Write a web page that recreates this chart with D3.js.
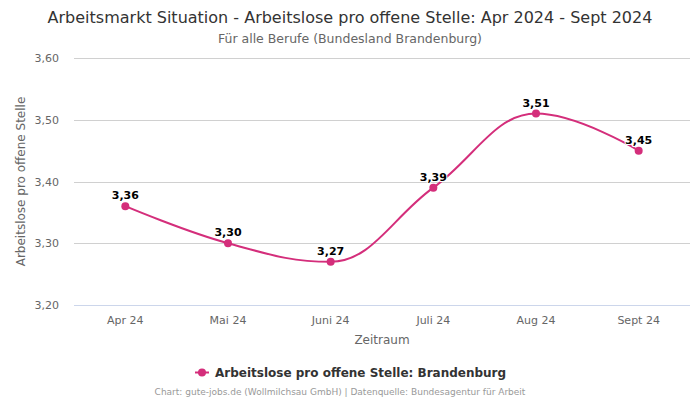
<!DOCTYPE html>
<html><head><meta charset="utf-8">
<script src="https://cdn.jsdelivr.net/npm/d3@7"></script>
<style>
body{margin:0;background:#fff;}
text{font-family:"DejaVu Sans",sans-serif;}
</style></head>
<body><svg id="c" width="700" height="400"></svg>
<script>
const categories = ["Apr 24","Mai 24","Juni 24","Juli 24","Aug 24","Sept 24"];
const values = [3.36, 3.30, 3.27, 3.39, 3.51, 3.45];
const yTicks = [3.20, 3.30, 3.40, 3.50, 3.60];
const seriesName = "Arbeitslose pro offene Stelle: Brandenburg";
const color = "#d42e7b";

const svg = d3.select("#c");
const fmt = v => v.toFixed(2).replace(".", ",");
const x = d3.scaleBand().domain(categories).range([74, 690]);
const y = d3.scaleLinear().domain([3.20, 3.60]).range([305, 58]);

svg.append("text").attr("x",350).attr("y",23).attr("text-anchor","middle")
  .attr("font-size",16).attr("fill","#333").text("Arbeitsmarkt Situation - Arbeitslose pro offene Stelle: Apr 2024 - Sept 2024");
svg.append("text").attr("x",350).attr("y",43).attr("text-anchor","middle")
  .attr("font-size",12.5).attr("fill","#666").text("Für alle Berufe (Bundesland Brandenburg)");

// grid
svg.append("g").selectAll("line").data(yTicks).join("line")
  .attr("x1",74).attr("x2",690).attr("y1",d=>Math.round(y(d))+0.5).attr("y2",d=>Math.round(y(d))+0.5)
  .attr("stroke",d=>d===3.20?"#ccd6eb":"#d0d0d0").attr("stroke-width",1);
svg.append("g").selectAll("text").data(yTicks).join("text")
  .attr("x",59).attr("y",d=>y(d)+4).attr("text-anchor","end").attr("font-size",11).attr("fill","#666")
  .text(fmt);
svg.append("text").attr("transform","translate(25,"+((58+305)/2)+") rotate(-90)").attr("text-anchor","middle")
  .attr("font-size",12).attr("fill","#666").text("Arbeitslose pro offene Stelle");

svg.append("g").selectAll("text").data(categories).join("text")
  .attr("x",d=>x(d)+x.bandwidth()/2).attr("y",324).attr("text-anchor","middle")
  .attr("font-size",11).attr("fill","#666").text(d=>d);
svg.append("text").attr("x",382).attr("y",344).attr("text-anchor","middle")
  .attr("font-size",12).attr("fill","#666").text("Zeitraum");

// Highcharts-style spline
const pts = values.map((v,i)=>({x:x(categories[i])+x.bandwidth()/2, y:y(v)}));
const sm = 1.5, den = sm+1;
pts.forEach((p,i)=>{
  const l = pts[i-1], n = pts[i+1];
  if (l && n) {
    let lcx=(sm*p.x+l.x)/den, lcy=(sm*p.y+l.y)/den, rcx=(sm*p.x+n.x)/den, rcy=(sm*p.y+n.y)/den;
    const corr=((rcy-lcy)*(rcx-p.x))/(rcx-lcx)+p.y-rcy;
    lcy+=corr; rcy+=corr;
    if (lcy>l.y && lcy>p.y){lcy=Math.max(l.y,p.y); rcy=2*p.y-lcy;}
    else if (lcy<l.y && lcy<p.y){lcy=Math.min(l.y,p.y); rcy=2*p.y-lcy;}
    if (rcy>n.y && rcy>p.y){rcy=Math.max(n.y,p.y); lcy=2*p.y-rcy;}
    else if (rcy<n.y && rcy<p.y){rcy=Math.min(n.y,p.y); lcy=2*p.y-rcy;}
    p.lcx=lcx;p.lcy=lcy;p.rcx=rcx;p.rcy=rcy;
  }
});
const path = d3.path();
pts.forEach((p,i)=>{
  if(i===0){path.moveTo(p.x,p.y);return;}
  const l=pts[i-1];
  path.bezierCurveTo(l.rcx??l.x, l.rcy??l.y, p.lcx??p.x, p.lcy??p.y, p.x, p.y);
});
svg.append("path").attr("d",path.toString()).attr("fill","none").attr("stroke",color).attr("stroke-width",2);
svg.append("g").selectAll("circle").data(pts).join("circle")
  .attr("cx",d=>d.x).attr("cy",d=>d.y).attr("r",4).attr("fill",color);
svg.append("g").selectAll("text").data(values).join("text")
  .attr("x",(d,i)=>pts[i].x).attr("y",(d,i)=>pts[i].y-7).attr("text-anchor","middle")
  .attr("font-size",11).attr("font-weight","bold").attr("fill","#000")
  .attr("stroke","#fff").attr("stroke-width",2).attr("paint-order","stroke").attr("stroke-linejoin","round")
  .text(fmt);

// legend
const lg = svg.append("g");
lg.append("line").attr("x1",195).attr("x2",209).attr("y1",372.5).attr("y2",372.5).attr("stroke",color).attr("stroke-width",2);
lg.append("circle").attr("cx",202).attr("cy",372.5).attr("r",4).attr("fill",color);
lg.append("text").attr("x",215).attr("y",377).attr("font-size",12).attr("font-weight","bold").attr("fill","#333").text(seriesName);

svg.append("text").attr("x",340).attr("y",395).attr("text-anchor","middle").attr("font-size",9).attr("fill","#999")
  .text("Chart: gute-jobs.de (Wollmilchsau GmbH) | Datenquelle: Bundesagentur für Arbeit");
</script></body></html>
